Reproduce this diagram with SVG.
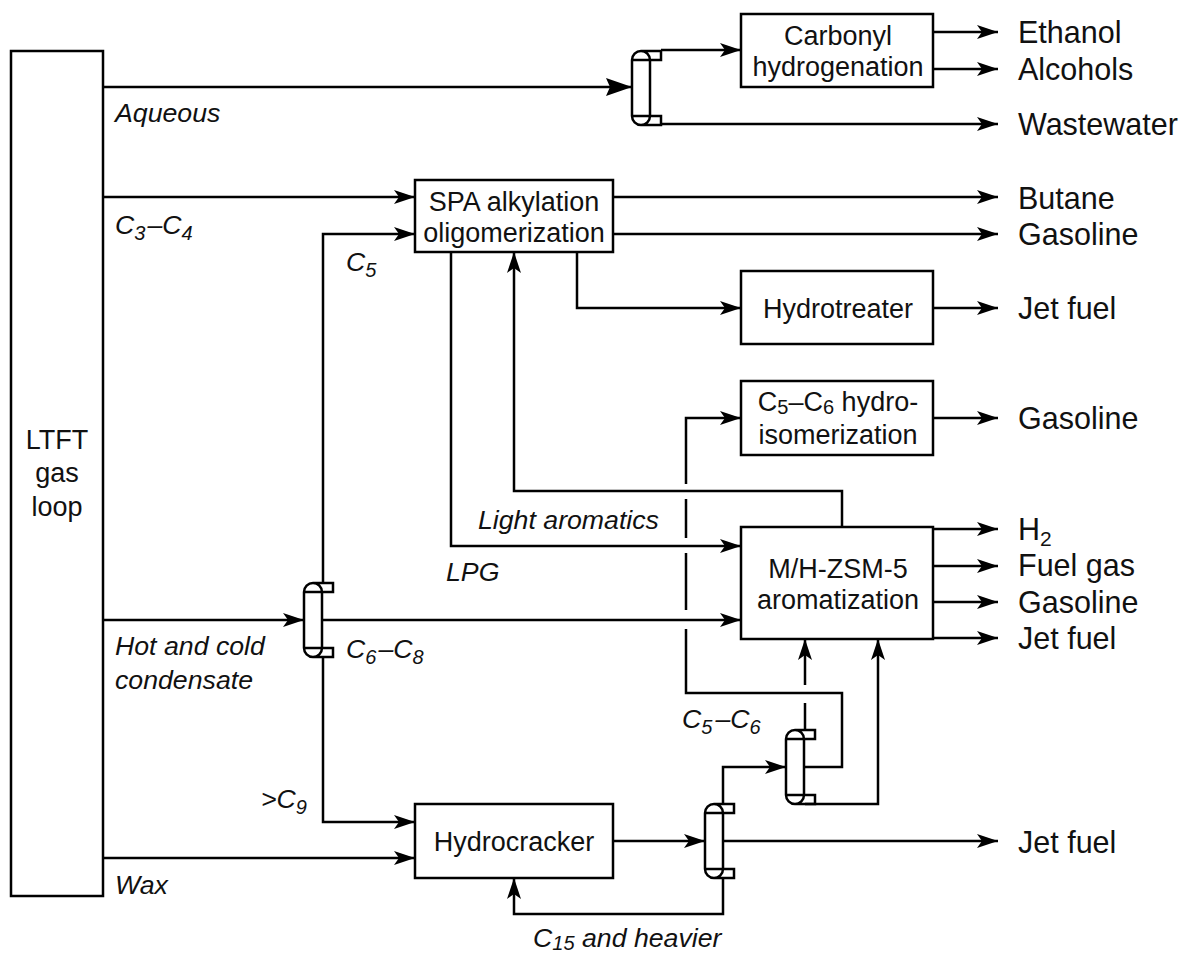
<svg xmlns="http://www.w3.org/2000/svg" width="1185" height="955" viewBox="0 0 1185 955">
<style>
text{font-family:"Liberation Sans",Arial,sans-serif;fill:#111}
.n{font-size:27px;text-anchor:middle}
.o{font-size:30.5px}
.i{font-size:26.7px;font-style:italic}
.s{font-size:20px}
.b{fill:#fff;stroke:#000;stroke-width:2.5}
.l{fill:none;stroke:#000;stroke-width:2.5}
.a{marker-end:url(#ar)}
</style>
<defs>
<marker id="ar" markerUnits="userSpaceOnUse" markerWidth="24" markerHeight="16" refX="21" refY="7.5" orient="auto"><path d="M0,0.5L21,7.5L0,14.5L5,7.5Z" fill="#000"/></marker>
<g id="col"><path class="l" d="M0,9V65A9,9 0 0 0 18,65V9A9,9 0 0 0 0,9ZM0,9H18M0,65H18M9,0H29V9H18M9,74H29V65H18"/></g>
</defs>
<g id="connectors">
<path class="l" d="M103,87H632"/>
<path d="M606,78L632,87L606,96L610,87Z" fill="#000"/>
<path class="l a" d="M661,50H741"/>
<path class="l a" d="M661,124H998"/>
<path class="l a" d="M933,32H998"/>
<path class="l a" d="M933,69H998"/>
<path class="l a" d="M103,197H415"/>
<path class="l a" d="M323,583V234H415"/>
<path class="l a" d="M613,197H998"/>
<path class="l a" d="M613,234H998"/>
<path class="l a" d="M577,252V308H741"/>
<path class="l a" d="M933,308H998"/>
<path class="l a" d="M933,418H998"/>
<path class="l a" d="M686,484V418H741"/>
<path class="l" d="M686,499V538M686,553V610M686,629V693H842V767H805"/>
<path class="l a" d="M842,527V491H514V252"/>
<path class="l a" d="M451,252V546H741"/>
<path class="l a" d="M103,620H304"/>
<path class="l a" d="M323,620H741"/>
<path class="l a" d="M933,529H998"/>
<path class="l a" d="M933,566H998"/>
<path class="l a" d="M933,602H998"/>
<path class="l a" d="M933,638H998"/>
<path class="l a" d="M323,658V822H415"/>
<path class="l a" d="M103,858H415"/>
<path class="l a" d="M613,841H705"/>
<path class="l a" d="M723,841H998"/>
<path class="l a" d="M723,878V914H514V878"/>
<path class="l a" d="M723,803V767H786"/>
<path class="l" d="M805,730V703"/>
<path class="l a" d="M805,685V639"/>
<path class="l a" d="M805,804H878V639"/>
</g>
<g id="ltft"><rect class="b" x="11" y="51" width="92" height="845"/><text class="n" x="57" y="449">LTFT</text><text class="n" x="57" y="482">gas</text><text class="n" x="57" y="516">loop</text></g>
<g id="carbonyl"><rect class="b" x="741" y="14" width="192" height="73"/><text class="n" x="838" y="45">Carbonyl</text><text class="n" x="838" y="76">hydrogenation</text></g>
<g id="spa"><rect class="b" x="415" y="180" width="198" height="72"/><text class="n" x="514" y="211">SPA alkylation</text><text class="n" x="514" y="242">oligomerization</text></g>
<g id="hydrotreater"><rect class="b" x="741" y="271" width="192" height="73"/><text class="n" x="838" y="318">Hydrotreater</text></g>
<g id="hydroisom"><rect class="b" x="741" y="381" width="192" height="74"/><text class="n" x="838" y="411">C<tspan class="s" dy="3">5</tspan><tspan dy="-3">–C</tspan><tspan class="s" dy="3">6</tspan><tspan dy="-3"> hydro-</tspan></text><text class="n" x="838" y="444">isomerization</text></g>
<g id="aromatization"><rect class="b" x="741" y="527" width="192" height="112"/><text class="n" x="838" y="578">M/H-ZSM-5</text><text class="n" x="838" y="609">aromatization</text></g>
<g id="hydrocracker"><rect class="b" x="415" y="804" width="198" height="74"/><text class="n" x="514" y="851">Hydrocracker</text></g>
<use id="col1" href="#col" x="632" y="51"/>
<use id="col2" href="#col" x="304" y="583"/>
<use id="col3" href="#col" x="705" y="804"/>
<use id="col4" href="#col" x="786" y="730"/>
<g id="outputs">
<text class="o" x="1018" y="43">Ethanol</text>
<text class="o" x="1018" y="80">Alcohols</text>
<text class="o" x="1018" y="135">Wastewater</text>
<text class="o" x="1018" y="209">Butane</text>
<text class="o" x="1018" y="245">Gasoline</text>
<text class="o" x="1018" y="319">Jet fuel</text>
<text class="o" x="1018" y="429">Gasoline</text>
<text class="o" x="1018" y="540">H<tspan font-size="21" dy="6">2</tspan></text>
<text class="o" x="1018" y="576">Fuel gas</text>
<text class="o" x="1018" y="613">Gasoline</text>
<text class="o" x="1018" y="649">Jet fuel</text>
<text class="o" x="1018" y="853">Jet fuel</text>
</g>
<g id="labels">
<text class="i" x="115" y="122">Aqueous</text>
<text class="i" x="115" y="234">C<tspan class="s" dy="6">3</tspan><tspan dy="-6" dx="2">–C</tspan><tspan class="s" dy="6">4</tspan></text>
<text class="i" x="346" y="271">C<tspan class="s" dy="6">5</tspan></text>
<text class="i" x="478" y="529">Light aromatics</text>
<text class="i" x="446" y="581">LPG</text>
<text class="i" x="115" y="655">Hot and cold</text>
<text class="i" x="115" y="689">condensate</text>
<text class="i" x="346" y="658">C<tspan class="s" dy="6">6</tspan><tspan dy="-6" dx="2">–C</tspan><tspan class="s" dy="6">8</tspan></text>
<text class="i" x="682" y="728">C<tspan class="s" dy="6">5</tspan><tspan dy="-6" dx="3">–C</tspan><tspan class="s" dy="6">6</tspan></text>
<text class="i" x="261" y="808">&gt;C<tspan class="s" dy="6">9</tspan></text>
<text class="i" x="115" y="894">Wax</text>
<text class="i" x="533" y="947">C<tspan class="s" dy="3">15</tspan><tspan dy="-3"> and heavier</tspan></text>
</g>
</svg>
